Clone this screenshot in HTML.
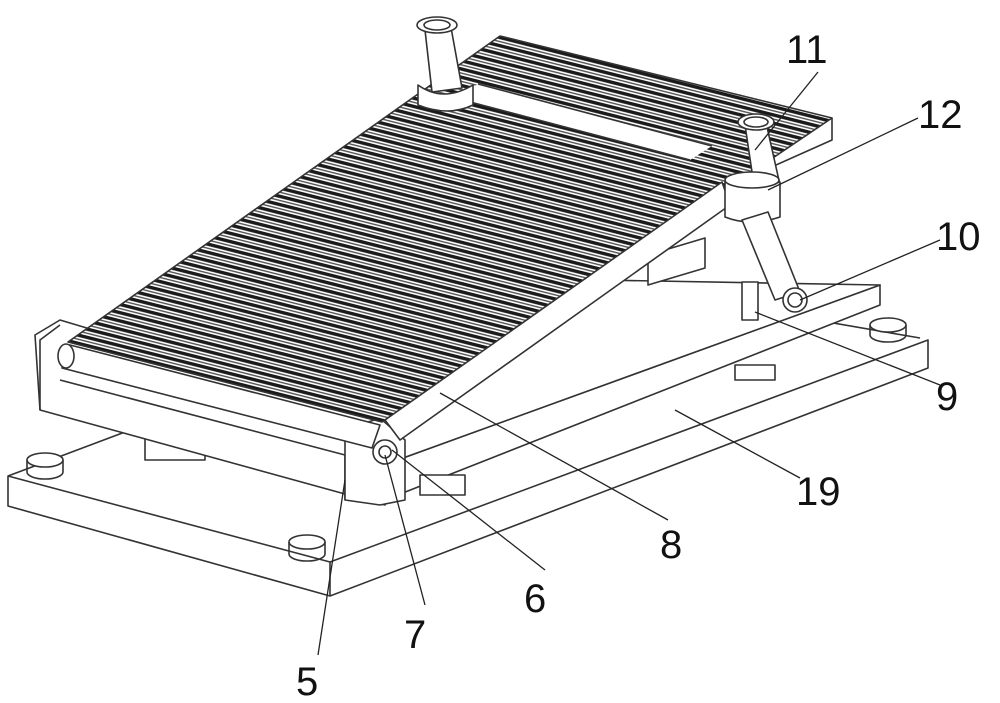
<!DOCTYPE html>
<html><head><meta charset="utf-8"><style>
html,body{margin:0;padding:0;background:#fff;}
svg{display:block}
text{font-family:"Liberation Sans",sans-serif;font-size:40px;fill:#111;}
</style></head><body>
<svg width="1000" height="703" viewBox="0 0 1000 703" xmlns="http://www.w3.org/2000/svg">
<defs>
<pattern id="rib" patternUnits="userSpaceOnUse" width="1000" height="8" patternTransform="rotate(14.2)">
<rect width="1000" height="8" fill="#fff"/>
<rect y="0" width="1000" height="3.4" fill="#1a1a1a"/>
<rect y="5" width="1000" height="1.4" fill="#555"/>
</pattern>
<clipPath id="tread"><polygon points="68,342 382,422 832,118 500,36"/></clipPath>
</defs>
<g fill="none" stroke="#333" stroke-width="1.6" stroke-linejoin="round">
<polygon points="8,476 330,562 928,340 928,368 330,596 8,506" fill="#fff"/>
<line x1="330" y1="562" x2="330" y2="596"/>
<polyline points="8,476 125,432"/>
<polyline points="920,338 700,300"/>
<ellipse cx="45" cy="460" rx="18" ry="7" fill="#fff"/><path d="M27,460 v12 a18,7 0 0 0 36,0 v-12"/>
<ellipse cx="307" cy="542" rx="18" ry="7" fill="#fff"/><path d="M289,542 v12 a18,7 0 0 0 36,0 v-12"/>
<ellipse cx="888" cy="325" rx="18" ry="7" fill="#fff"/><path d="M870,325 v10 a18,7 0 0 0 36,0 v-10"/>
<polygon points="370,470 880,285 880,305 385,500" fill="#fff"/>
<polygon points="600,280 880,285 370,470 360,440" fill="#fff"/>
<rect x="145" y="435" width="60" height="25" fill="#fff"/>
<rect x="420" y="475" width="45" height="20" fill="#fff"/>
<rect x="735" y="365" width="40" height="15" fill="#fff"/>
<polygon points="648,255 705,238 705,268 648,285" fill="#fff"/>
<polygon points="35,335 60,320 395,420 385,505 40,410" fill="#fff"/>
<polyline points="40,410 40,340 60,325"/>
<polyline points="60,380 345,455 345,500"/>
<polygon points="345,430 380,418 405,440 405,500 380,505 345,500" fill="#fff"/>
<circle cx="385" cy="452" r="12" fill="#fff"/><circle cx="385" cy="452" r="6" fill="#fff"/>
<path d="M70,345 L380,425 L372,448 L62,368 Z" fill="#fff"/>
<ellipse cx="66" cy="356" rx="8" ry="12" fill="#fff"/>
</g>
<polygon points="68,342 382,422 832,118 500,36" fill="url(#rib)" clip-path="url(#tread)"/>
<polygon points="455,98 690,160 712,146 478,84" fill="#fff"/>
<g fill="none" stroke="#333" stroke-width="1.6" stroke-linejoin="round">
<polygon points="68,342 382,422 832,118 500,36"/>
<line x1="455" y1="98" x2="690" y2="160"/><line x1="478" y1="84" x2="712" y2="146"/>
<polyline points="832,118 832,140 720,190"/>
<polygon points="385,420 722,182 730,205 400,440" fill="#fff"/>
<polygon points="745,125 765,118 780,185 755,192" fill="#fff"/>
<ellipse cx="756" cy="122" rx="18" ry="8" fill="#fff"/>
<ellipse cx="756" cy="122" rx="12" ry="5"/>
<path d="M725,182 v35 q25,10 55,0 v-35 q-30,10 -55,0 Z" fill="#fff"/>
<ellipse cx="752" cy="180" rx="27" ry="8" fill="#fff"/>
<polygon points="742,220 768,212 800,292 775,300" fill="#fff"/>
<rect x="742" y="282" width="16" height="38" fill="#fff"/>
<circle cx="795" cy="300" r="12" fill="#fff"/><circle cx="795" cy="300" r="7"/>
<polygon points="425,30 450,22 462,88 432,92" fill="#fff"/>
<ellipse cx="437" cy="25" rx="20" ry="8" fill="#fff"/><ellipse cx="437" cy="25" rx="13" ry="5"/>
<path d="M418,85 q25,18 55,0 v20 q-25,12 -55,0 Z" fill="#fff"/>
<g stroke="#222" stroke-width="1.3">
<line x1="818" y1="72" x2="755" y2="150"/>
<line x1="918" y1="118" x2="768" y2="190"/>
<line x1="940" y1="240" x2="800" y2="300"/>
<line x1="940" y1="385" x2="755" y2="312"/>
<line x1="800" y1="478" x2="675" y2="410"/>
<line x1="668" y1="520" x2="440" y2="393"/>
<line x1="545" y1="570" x2="392" y2="450"/>
<line x1="425" y1="605" x2="385" y2="455"/>
<line x1="318" y1="655" x2="345" y2="480"/>
</g>
</g>
<text x="786" y="63">11</text>
<text x="918" y="128">12</text>
<text x="936" y="250">10</text>
<text x="936" y="410">9</text>
<text x="796" y="505">19</text>
<text x="660" y="558">8</text>
<text x="524" y="612">6</text>
<text x="404" y="648">7</text>
<text x="296" y="695">5</text>
</svg>
</body></html>
